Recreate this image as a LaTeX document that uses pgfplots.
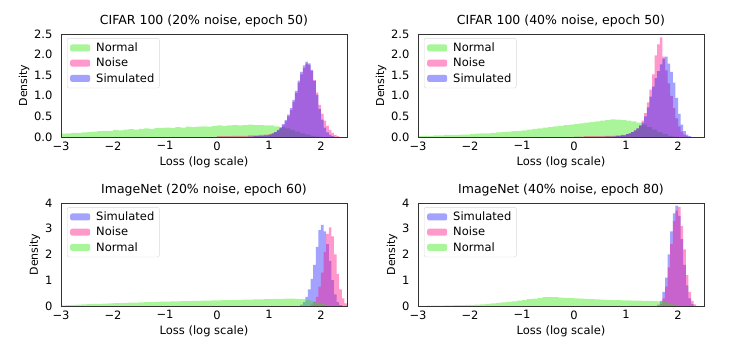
\documentclass[border=0pt]{standalone}
\usepackage{fontspec}
\setmainfont{DejaVu Sans}
\usepackage{pgfplots}
\pgfplotsset{compat=1.18}

\definecolor{cnormal}{RGB}{42,230,0}
\definecolor{cnoise}{RGB}{255,0,128}
\definecolor{csim}{RGB}{0,0,255}

\pgfplotsset{
  histax/.style={
    scale only axis, width=286pt, height=103pt,
    xmin=-3, xmax=2.5, ymin=0,
    xtick={-3,-2,-1,0,1,2}, xticklabels={−3,−2,−1,0,1,2},
    xlabel={Loss (log scale)}, ylabel={Density},
    axis line style={black!80, line width=0.8pt},
    major tick length=0pt,
    tick label style={font=\fontsize{11.5}{13}\selectfont},
    yticklabel style={xshift=-5pt},
    xticklabel style={yshift=-1pt},
    label style={font=\fontsize{11}{13}\selectfont},
    xlabel style={font=\fontsize{11.5}{13}\selectfont},
    ylabel style={yshift=-2pt},
    title style={font=\fontsize{12.5}{14}\selectfont, yshift=-3pt},
    /pgf/number format/assume math mode=true,
    legend style={at={(0.021,0.96)}, anchor=north west, draw=black!15,
      rounded corners=2pt, font=\fontsize{11.5}{14}\selectfont,
      inner xsep=3pt, inner ysep=2.5pt, row sep=1pt,
      /tikz/every odd column/.append style={column sep=4pt}},
    legend cell align=left,
    legend image code/.code={\fill[##1] (0pt,-3.5pt) rectangle (20pt,3.5pt);},
    axis on top,
  },
  topax/.style={histax, ymax=2.5, ytick={0,0.5,...,2.5},
    yticklabel style={/pgf/number format/fixed, /pgf/number format/fixed zerofill,
      /pgf/number format/precision=1}},
  botax/.style={histax, ymax=4, ytick={0,1,2,3,4}},
  nrm/.style={const plot, draw=none, fill=cnormal, fill opacity=0.4},
  nse/.style={const plot, draw=none, fill=cnoise, fill opacity=0.4},
  sim/.style={const plot, draw=none, fill=csim, fill opacity=0.36},
}

\begin{document}
\begin{tikzpicture}
\path (0,0) rectangle (747pt,353pt);

% CIFAR 100, 20%
\begin{axis}[topax, at={(61pt,216pt)}, anchor=south west,
  title={CIFAR 100 (20\% noise, epoch 50)}]
\addplot[nrm] coordinates {
(-3.0,0.08) (-2.9,0.09) (-2.8,0.10) (-2.7,0.10) (-2.6,0.11) (-2.5,0.12) (-2.4,0.13)
(-2.3,0.14) (-2.2,0.15) (-2.1,0.15) (-2.0,0.17) (-1.9,0.16) (-1.8,0.18) (-1.7,0.19)
(-1.6,0.18) (-1.5,0.20) (-1.4,0.21) (-1.3,0.20) (-1.2,0.22) (-1.1,0.22) (-1.0,0.23)
(-0.9,0.22) (-0.8,0.24) (-0.7,0.23) (-0.6,0.25) (-0.5,0.24) (-0.4,0.25) (-0.3,0.26)
(-0.2,0.25) (-0.1,0.27) (0.0,0.28) (0.1,0.27) (0.2,0.28) (0.3,0.29) (0.4,0.28)
(0.5,0.29) (0.6,0.30) (0.7,0.29) (0.8,0.29) (0.9,0.28) (1.0,0.28) (1.1,0.26)
(1.2,0.24) (1.3,0.21) (1.4,0.17) (1.5,0.13) (1.6,0.09) (1.7,0.06) (1.8,0.03)
(1.9,0.01) (2.0,0)} \closedcycle;
\addlegendentry{Normal}
\addplot[nse] coordinates {
(0.0,0.02) (0.1,0.02) (0.2,0.02) (0.3,0.03) (0.4,0.03) (0.5,0.03) (0.6,0.04)
(0.7,0.04) (0.8,0.05) (0.9,0.06) (1.0,0.07) (1.05,0.09) (1.10,0.12) (1.15,0.16)
(1.20,0.21) (1.25,0.28) (1.30,0.38) (1.35,0.50) (1.40,0.65) (1.45,0.85) (1.50,1.07)
(1.55,1.32) (1.60,1.52) (1.65,1.68) (1.70,1.78) (1.75,1.75) (1.80,1.60) (1.85,1.38)
(1.90,1.08) (1.95,0.78) (2.00,0.57) (2.05,0.40) (2.10,0.27) (2.15,0.17) (2.20,0.10)
(2.25,0.05) (2.30,0.02) (2.35,0)} \closedcycle;
\addlegendentry{Noise}
\addplot[sim] coordinates {
(0.6,0.01) (0.7,0.02) (0.8,0.03) (0.9,0.04) (1.0,0.06) (1.05,0.09) (1.10,0.12)
(1.15,0.17) (1.20,0.23) (1.25,0.31) (1.30,0.41) (1.35,0.54) (1.40,0.70) (1.45,0.90)
(1.50,1.12) (1.55,1.37) (1.60,1.58) (1.65,1.74) (1.70,1.83) (1.75,1.79) (1.80,1.63)
(1.85,1.36) (1.90,1.02) (1.95,0.68) (2.00,0.42) (2.05,0.23) (2.10,0.11) (2.15,0.05)
(2.20,0.02) (2.25,0)} \closedcycle;
\addlegendentry{Simulated}
\end{axis}

% CIFAR 100, 40%
\begin{axis}[topax, at={(418pt,216pt)}, anchor=south west,
  title={CIFAR 100 (40\% noise, epoch 50)}]
\addplot[nrm] coordinates {
(-3.0,0.03) (-2.9,0.03) (-2.8,0.03) (-2.7,0.04) (-2.6,0.04) (-2.5,0.05) (-2.4,0.05)
(-2.3,0.05) (-2.2,0.06) (-2.1,0.06) (-2.0,0.07) (-1.9,0.08) (-1.8,0.09) (-1.7,0.09)
(-1.6,0.10) (-1.5,0.11) (-1.4,0.12) (-1.3,0.13) (-1.2,0.14) (-1.1,0.15) (-1.0,0.16)
(-0.9,0.18) (-0.8,0.20) (-0.7,0.21) (-0.6,0.23) (-0.5,0.24) (-0.4,0.26) (-0.3,0.27)
(-0.2,0.29) (-0.1,0.30) (0.0,0.31) (0.1,0.33) (0.2,0.35) (0.3,0.36) (0.4,0.38)
(0.5,0.40) (0.6,0.41) (0.7,0.43) (0.8,0.42) (0.9,0.41) (1.0,0.40) (1.1,0.38)
(1.2,0.35) (1.3,0.30) (1.4,0.24) (1.5,0.18) (1.6,0.12) (1.7,0.07) (1.8,0.03)
(1.9,0.01) (2.0,0)} \closedcycle;
\addlegendentry{Normal}
\addplot[nse] coordinates {
(0.0,0.01) (0.2,0.02) (0.4,0.02) (0.6,0.03) (0.8,0.04) (0.9,0.05) (1.0,0.07)
(1.05,0.09) (1.10,0.12) (1.15,0.16) (1.20,0.21) (1.25,0.29) (1.30,0.40) (1.35,0.58)
(1.40,0.84) (1.45,1.15) (1.50,1.52) (1.55,1.98) (1.60,2.25) (1.65,2.42) (1.70,1.95)
(1.75,1.62) (1.80,1.30) (1.85,1.00) (1.90,0.70) (1.95,0.45) (2.00,0.26) (2.05,0.13)
(2.10,0.06) (2.15,0.02) (2.20,0)} \closedcycle;
\addlegendentry{Noise}
\addplot[sim] coordinates {
(0.6,0.01) (0.8,0.02) (0.9,0.04) (1.0,0.07) (1.05,0.09) (1.10,0.12) (1.15,0.16)
(1.20,0.21) (1.25,0.27) (1.30,0.35) (1.35,0.50) (1.40,0.72) (1.45,0.98) (1.50,1.22)
(1.55,1.43) (1.60,1.60) (1.65,1.76) (1.70,1.90) (1.75,1.95) (1.80,1.78) (1.85,1.58)
(1.90,1.32) (1.95,0.95) (2.00,0.56) (2.05,0.30) (2.10,0.14) (2.15,0.06) (2.20,0.02)
(2.25,0)} \closedcycle;
\addlegendentry{Simulated}
\end{axis}

% ImageNet, 20%
\begin{axis}[botax, at={(61pt,47pt)}, anchor=south west,
  title={ImageNet (20\% noise, epoch 60)}]
\addplot[sim] coordinates {
(1.60,0.05) (1.65,0.15) (1.70,0.35) (1.75,0.65) (1.80,1.05) (1.85,1.60) (1.90,2.30)
(1.95,2.95) (2.00,3.15) (2.05,2.90) (2.10,2.40) (2.15,1.75) (2.20,1.00) (2.25,0.45)
(2.30,0.15) (2.35,0.03) (2.40,0)} \closedcycle;
\addlegendentry{Simulated}
\addplot[nse] coordinates {
(1.80,0.05) (1.85,0.15) (1.90,0.35) (1.95,0.75) (2.00,1.30) (2.05,2.10) (2.10,2.80)
(2.15,3.05) (2.20,2.70) (2.25,2.00) (2.30,1.25) (2.35,0.65) (2.40,0.30) (2.45,0.10)
(2.50,0)} \closedcycle;
\addlegendentry{Noise}
\addplot[nrm] coordinates {
(-3.0,0.02) (-2.9,0.03) (-2.8,0.04) (-2.7,0.05) (-2.6,0.06) (-2.5,0.07) (-2.4,0.08)
(-2.3,0.08) (-2.2,0.09) (-2.1,0.10) (-2.0,0.11) (-1.9,0.11) (-1.8,0.12) (-1.7,0.13)
(-1.6,0.13) (-1.5,0.14) (-1.4,0.15) (-1.3,0.15) (-1.2,0.16) (-1.1,0.17) (-1.0,0.17)
(-0.9,0.18) (-0.8,0.18) (-0.7,0.19) (-0.6,0.19) (-0.5,0.20) (-0.4,0.20) (-0.3,0.21)
(-0.2,0.21) (-0.1,0.22) (0.0,0.22) (0.1,0.23) (0.2,0.23) (0.3,0.24) (0.4,0.24)
(0.5,0.25) (0.6,0.25) (0.7,0.26) (0.8,0.26) (0.9,0.27) (1.0,0.27) (1.1,0.28)
(1.2,0.28) (1.3,0.29) (1.4,0.29) (1.5,0.28) (1.6,0.27) (1.7,0.24) (1.8,0.19)
(1.9,0.13) (2.0,0.07) (2.1,0.03) (2.2,0.01) (2.3,0)} \closedcycle;
\addlegendentry{Normal}
\end{axis}

% ImageNet, 40%
\begin{axis}[botax, at={(418pt,47pt)}, anchor=south west,
  title={ImageNet (40\% noise, epoch 80)}]
\addplot[sim] coordinates {
(1.60,0.05) (1.65,0.20) (1.70,0.55) (1.75,1.10) (1.80,2.00) (1.85,2.90) (1.90,3.60)
(1.95,3.90) (2.00,3.50) (2.05,2.60) (2.10,1.60) (2.15,0.80) (2.20,0.30) (2.25,0.08)
(2.30,0)} \closedcycle;
\addlegendentry{Simulated}
\addplot[nse] coordinates {
(1.65,0.08) (1.70,0.30) (1.75,0.75) (1.80,1.50) (1.85,2.40) (1.90,3.30) (1.95,3.70)
(2.00,3.85) (2.05,3.10) (2.10,2.20) (2.15,1.20) (2.20,0.55) (2.25,0.20) (2.30,0.06)
(2.35,0)} \closedcycle;
\addlegendentry{Noise}
\addplot[nrm] coordinates {
(-3.0,0.00) (-2.8,0.01) (-2.6,0.01) (-2.5,0.02) (-2.4,0.02) (-2.3,0.03) (-2.2,0.03)
(-2.1,0.04) (-2.0,0.04) (-1.9,0.05) (-1.8,0.06) (-1.7,0.08) (-1.6,0.10) (-1.5,0.12)
(-1.4,0.14) (-1.3,0.16) (-1.2,0.18) (-1.1,0.21) (-1.0,0.24) (-0.9,0.27) (-0.8,0.29)
(-0.7,0.32) (-0.6,0.34) (-0.5,0.34) (-0.4,0.34) (-0.3,0.33) (-0.2,0.32) (-0.1,0.31)
(0.0,0.30) (0.1,0.29) (0.2,0.28) (0.3,0.27) (0.4,0.26) (0.5,0.25) (0.6,0.24)
(0.7,0.23) (0.8,0.23) (0.9,0.22) (1.0,0.22) (1.1,0.21) (1.2,0.21) (1.3,0.20)
(1.4,0.20) (1.5,0.19) (1.6,0.18) (1.7,0.15) (1.8,0.10) (1.9,0.05) (2.0,0.02)
(2.1,0)} \closedcycle;
\addlegendentry{Normal}
\end{axis}
\end{tikzpicture}
\end{document}
